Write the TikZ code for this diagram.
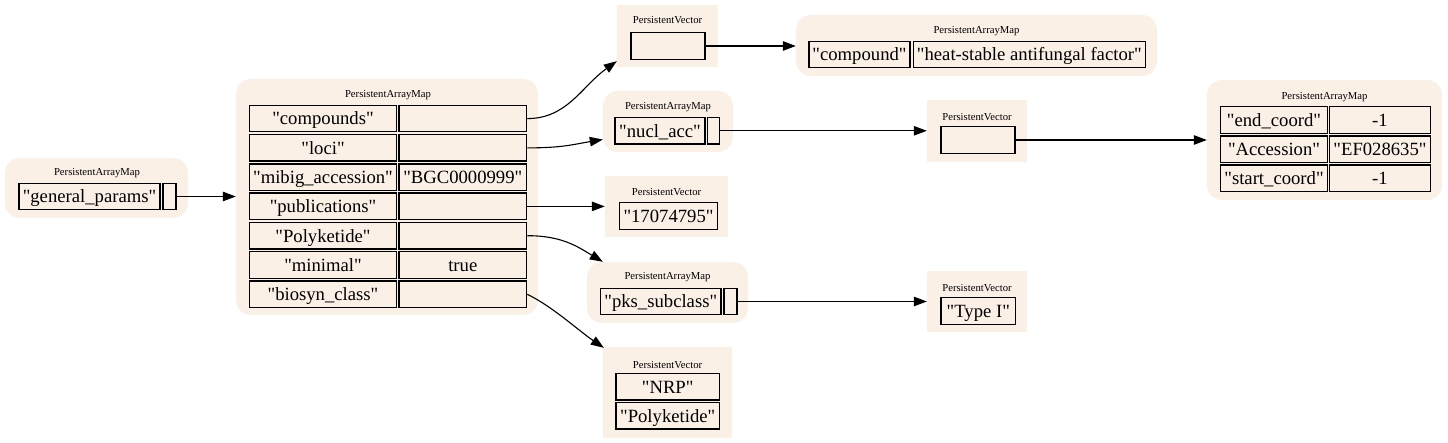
\documentclass[tikz,border=0pt]{standalone}
\usepackage{fontspec}
\setmainfont{Liberation Serif}[Ligatures=TeXOff]
\usetikzlibrary{arrows.meta,calc}
\definecolor{bgc}{HTML}{FAF0E6}
\newcommand\cellfnt{\fontsize{18.67}{20}\selectfont}
\newcommand\ttlfnt{\fontsize{10.67}{12}\selectfont}
\tikzset{
  bgmap/.style={fill=bgc, draw=none, rounded corners=15pt, inner sep=0},
  bgvec/.style={fill=bgc, draw=none, inner sep=0},
  cell/.style={draw=black, line width=1.3pt, fill=bgc, inner sep=0, minimum height=26.5pt,
               text height=15pt, text depth=2.2pt, font=\cellfnt},
  ttl/.style={font=\ttlfnt, inner sep=0},
  edge/.style={line width=1.1pt, draw=black, -{Triangle[length=13pt,width=9.5pt]}}
}
\begin{document}
\begin{tikzpicture}[x=1pt,y=-1pt]
\useasboundingbox (0,0) rectangle (1448,443);
% ---- A: general_params map
\node[bgmap,minimum width=183pt,minimum height=60pt] (A) at (96.5,188) {};
\node[ttl] (At) at (97,173) {PersistentArrayMap};
\node[cell,minimum width=141pt] (Ak) at (89.5,196.5) {"general\_params"};
\node[cell,minimum width=13pt] (Av) at (169.5,196.5) {};
% ---- B: main map
\node[bgmap,minimum width=302pt,minimum height=236pt] (B) at (387,197) {};
\node[ttl] (Bt) at (388,95) {PersistentArrayMap};
\node[cell,minimum width=147pt] (B1k) at (323,118.6) {"compounds"};
\node[cell,minimum width=127.6pt] (B1v) at (462.8,118.6) {};
\node[cell,minimum width=147pt] (B2k) at (323,147.9) {"loci"};
\node[cell,minimum width=127.6pt] (B2v) at (462.8,147.9) {};
\node[cell,minimum width=147pt] (B3k) at (323,177.2) {"mibig\_accession"};
\node[cell,minimum width=127.6pt] (B3v) at (462.8,177.2) {"BGC0000999"};
\node[cell,minimum width=147pt] (B4k) at (323,206.4) {"publications"};
\node[cell,minimum width=127.6pt] (B4v) at (462.8,206.4) {};
\node[cell,minimum width=147pt] (B5k) at (323,235.7) {"Polyketide"};
\node[cell,minimum width=127.6pt] (B5v) at (462.8,235.7) {};
\node[cell,minimum width=147pt] (B6k) at (323,265.0) {"minimal"};
\node[cell,minimum width=127.6pt] (B6v) at (462.8,265.0) {true};
\node[cell,minimum width=147pt] (B7k) at (323,294.3) {"biosyn\_class"};
\node[cell,minimum width=127.6pt] (B7v) at (462.8,294.3) {};
% ---- C: top vector
\node[bgvec,minimum width=101pt,minimum height=62pt] (C) at (667.5,36) {};
\node[ttl] (Ct) at (667.5,20) {PersistentVector};
\node[cell,minimum width=74pt] (Cv) at (668,46) {};
% ---- D: compound map
\node[bgmap,minimum width=361pt,minimum height=61pt] (D) at (976.5,45.5) {};
\node[ttl] (Dt) at (976.5,31) {PersistentArrayMap};
\node[cell,minimum width=101pt] (Dk) at (859.5,54.5) {"compound"};
\node[cell,minimum width=232pt] (Dv) at (1029.3,54.5) {"heat-stable antifungal factor"};
% ---- E: nucl_acc map
\node[bgmap,minimum width=130pt,minimum height=61pt] (E) at (668,121.5) {};
\node[ttl] (Et) at (668,107.5) {PersistentArrayMap};
\node[cell,minimum width=90pt] (Ek) at (660,130.8) {"nucl\_acc"};
\node[cell,minimum width=12pt] (Ev) at (713.3,130.8) {};
% ---- F: middle vector
\node[bgvec,minimum width=100pt,minimum height=62pt] (F) at (977,131) {};
\node[ttl] (Ft) at (977,117) {PersistentVector};
\node[cell,minimum width=74pt] (Fv) at (978,140) {};
% ---- G: coordinates map
\node[bgmap,minimum width=235pt,minimum height=120pt] (G) at (1324.5,140) {};
\node[ttl] (Gt) at (1324.5,97.5) {PersistentArrayMap};
\node[cell,minimum width=106.6pt] (G1k) at (1274,120) {"end\_coord"};
\node[cell,minimum width=101.4pt] (G1v) at (1380,120) {-1};
\node[cell,minimum width=106.6pt] (G2k) at (1274,149.2) {"Accession"};
\node[cell,minimum width=101.4pt] (G2v) at (1380,149.2) {"EF028635"};
\node[cell,minimum width=106.6pt] (G3k) at (1274,178.4) {"start\_coord"};
\node[cell,minimum width=101.4pt] (G3v) at (1380,178.4) {-1};
% ---- H: publications vector
\node[bgvec,minimum width=123pt,minimum height=61pt] (H) at (666.5,206.5) {};
\node[ttl] (Ht) at (666.5,192.5) {PersistentVector};
\node[cell,minimum width=98.4pt] (Hv) at (668.5,216) {"17074795"};
% ---- I: pks_subclass map
\node[bgmap,minimum width=161pt,minimum height=61pt] (I) at (667.5,292.5) {};
\node[ttl] (It) at (667.5,277) {PersistentArrayMap};
\node[cell,minimum width=120.3pt] (Ik) at (660.8,301.5) {"pks\_subclass"};
\node[cell,minimum width=13pt] (Iv) at (730.5,301.5) {};
% ---- J: Type I vector
\node[bgvec,minimum width=100pt,minimum height=61pt] (J) at (977,301.5) {};
\node[ttl] (Jt) at (977,288) {PersistentVector};
\node[cell,minimum width=74.7pt] (Jv) at (978.3,311) {"Type I"};
% ---- K: biosyn_class vector
\node[bgvec,minimum width=129pt,minimum height=91pt] (K) at (667.5,392.5) {};
\node[ttl] (Kt) at (667.5,365) {PersistentVector};
\node[cell,minimum width=103.3pt] (K1) at (667.7,386.7) {"NRP"};
\node[cell,minimum width=103.3pt] (K2) at (667.7,415.7) {"Polyketide"};
% ---- edges
\draw[edge] (Av.east) -- (Av.east -| B.west);
\draw[edge] (B1v.east) .. controls +(40,0) and +(-35,25) .. ($(C.south west)+(0,-6)$);
\draw[edge] (B2v.east) .. controls +(35,0) and +(-30,5) .. ($(E.west)+(0,18)$);
\draw[edge] (B4v.east) -- (B4v.east -| H.west);
\draw[edge] (B5v.east) .. controls +(35,0) and +(-25,-15) .. ($(I.north west)+(16,0)$);
\draw[edge] (B7v.east) .. controls +(25,12) and +(-25,-17) .. ($(K.north west)+(1,1)$);
\draw[edge] (Cv.east) -- (Cv.east -| D.west);
\draw[edge] (Ev.east) -- (Ev.east -| F.west);
\draw[edge] (Fv.east) -- (Fv.east -| G.west);
\draw[edge] (Iv.east) -- (Iv.east -| J.west);
\end{tikzpicture}
\end{document}
